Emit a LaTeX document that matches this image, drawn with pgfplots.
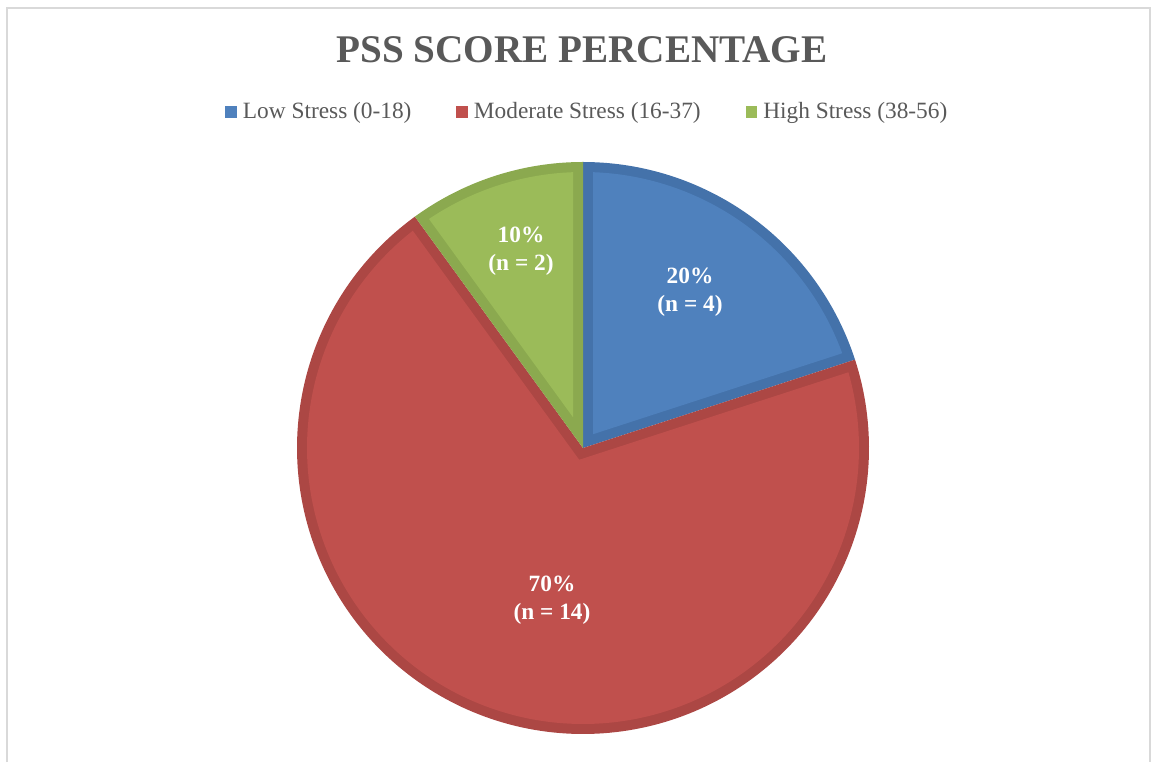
\documentclass[border=0pt]{standalone}
\usepackage{pgfplots}
\pgfplotsset{compat=1.18}
\usepackage{fontspec}
\setmainfont{Liberation Serif}

\definecolor{lowfill}{HTML}{4F81BD}
\definecolor{lowedge}{HTML}{4472AA}
\definecolor{modfill}{HTML}{C0504D}
\definecolor{modedge}{HTML}{AC4744}
\definecolor{highfill}{HTML}{9BBB59}
\definecolor{highedge}{HTML}{8BA94F}
\definecolor{txtgray}{HTML}{595959}
\definecolor{framegray}{HTML}{D9D9D9}

% counts per group
\def\nLow{4}
\def\nMod{14}
\def\nHigh{2}

% pie geometry (units = pixels of the reference)
\pgfmathsetmacro\cx{583}
\pgfmathsetmacro\cy{314}
\pgfmathsetmacro\R{286}
\pgfmathsetmacro\bw{10}
\pgfmathsetmacro\rin{\R-\bw}
\pgfmathsetmacro\gap{asin(\bw/\rin)}
\pgfmathsetmacro\total{\nLow+\nMod+\nHigh}

% slice angles, clockwise from 12 o'clock
\pgfmathsetmacro\aLowE{90}
\pgfmathsetmacro\aLowB{90-360*\nLow/\total}
\pgfmathsetmacro\aModE{\aLowB}
\pgfmathsetmacro\aModB{\aLowB-360*\nMod/\total}
\pgfmathsetmacro\aHighB{90}
\pgfmathsetmacro\aHighE{90+360*\nHigh/\total}

% inner (lighter) wedge apex for each slice
\pgfmathsetmacro\xLow{\cx+\bw/sin((\aLowE-\aLowB)/2)*cos((\aLowE+\aLowB)/2)}
\pgfmathsetmacro\yLow{\cy+\bw/sin((\aLowE-\aLowB)/2)*sin((\aLowE+\aLowB)/2)}
\pgfmathsetmacro\xMod{\cx+\bw/sin((\aModE-\aModB)/2)*cos((\aModE+\aModB)/2)}
\pgfmathsetmacro\yMod{\cy+\bw/sin((\aModE-\aModB)/2)*sin((\aModE+\aModB)/2)}
\pgfmathsetmacro\xHigh{\cx+\bw/sin((\aHighE-\aHighB)/2)*cos((\aHighE+\aHighB)/2)}
\pgfmathsetmacro\yHigh{\cy+\bw/sin((\aHighE-\aHighB)/2)*sin((\aHighE+\aHighB)/2)}

\begin{document}
\begin{tikzpicture}
\begin{axis}[
  scale only axis, width=692.4pt, height=457.2pt,
  xmin=0, xmax=1154, ymin=0, ymax=762,
  hide axis, clip=false,
  legend image code/.code={\fill[#1, draw=none] (0pt,-3.5pt) rectangle (7pt,3.5pt);},
  legend columns=3,
  legend style={draw=none, fill=none, at={(0.5096,0.853)}, anchor=center,
    font=\fontsize{14}{17}\selectfont, text=txtgray,
    /tikz/every even column/.append style={column sep=25pt},
    /tikz/every odd column/.append style={column sep=1.5pt}},
]
% page extent and frame
\path (0,0) rectangle (1154,762);
\draw[framegray, line width=1.2pt] (7,0) -- (7,754) -- (1150,754) -- (1150,0);

% Low stress
\addplot[fill=lowedge, draw=none, domain=\aLowB:\aLowE, samples=80, forget plot]
  ({\cx+\R*cos(x)},{\cy+\R*sin(x)}) -- (\cx,\cy) -- cycle;
\addplot[fill=lowfill, draw=none, domain=\aLowB+\gap:\aLowE-\gap, samples=80, forget plot]
  ({\cx+\rin*cos(x)},{\cy+\rin*sin(x)}) -- (\xLow,\yLow) -- cycle;
% Moderate stress
\addplot[fill=modedge, draw=none, domain=\aModB:\aModE, samples=200, forget plot]
  ({\cx+\R*cos(x)},{\cy+\R*sin(x)}) -- (\cx,\cy) -- cycle;
\addplot[fill=modfill, draw=none, domain=\aModB+\gap:\aModE-\gap, samples=200, forget plot]
  ({\cx+\rin*cos(x)},{\cy+\rin*sin(x)}) -- (\xMod,\yMod) -- cycle;
% High stress
\addplot[fill=highedge, draw=none, domain=\aHighB:\aHighE, samples=50, forget plot]
  ({\cx+\R*cos(x)},{\cy+\R*sin(x)}) -- (\cx,\cy) -- cycle;
\addplot[fill=highfill, draw=none, domain=\aHighB+\gap:\aHighE-\gap, samples=50, forget plot]
  ({\cx+\rin*cos(x)},{\cy+\rin*sin(x)}) -- (\xHigh,\yHigh) -- cycle;

\addlegendimage{fill=lowfill}
\addlegendentry{Low Stress (0-18)}
\addlegendimage{fill=modfill}
\addlegendentry{Moderate Stress (16-37)}
\addlegendimage{fill=highfill}
\addlegendentry{High Stress (38-56)}

% data labels
\node[white, align=center, font=\bfseries\fontsize{14}{17}\selectfont]
  at (690,470) {20\%\\(n = 4)};
\node[white, align=center, font=\bfseries\fontsize{14}{17}\selectfont]
  at (521,511) {10\%\\(n = 2)};
\node[white, align=center, font=\bfseries\fontsize{14}{17}\selectfont]
  at (552,162) {70\%\\(n = 14)};

% title
\node[txtgray, font=\bfseries\fontsize{23.5}{28}\selectfont] at (582,712)
  {PSS SCORE PERCENTAGE};
\end{axis}
\end{tikzpicture}
\end{document}
